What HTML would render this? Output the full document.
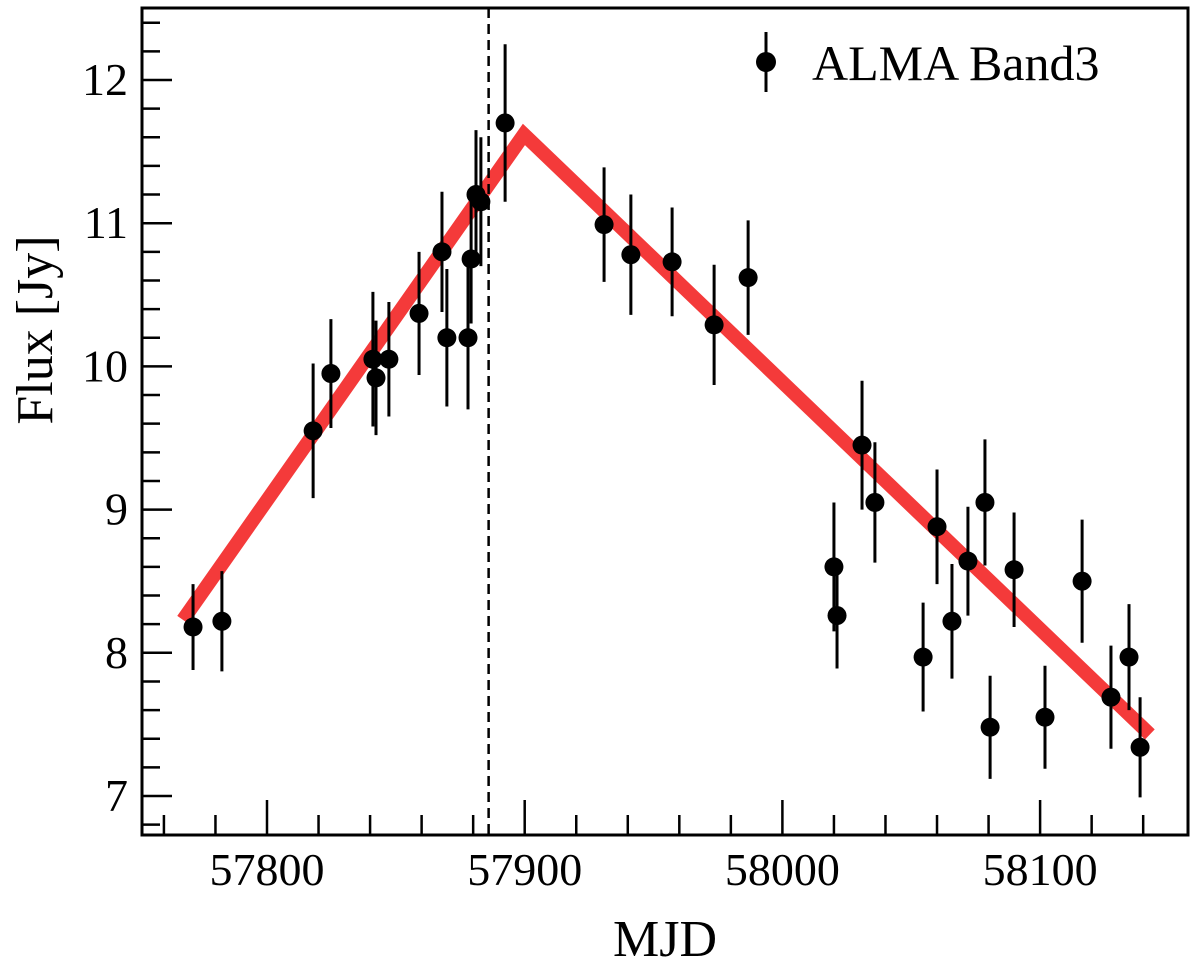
<!DOCTYPE html>
<html><head><meta charset="utf-8"><style>
html,body{margin:0;padding:0;background:#fff;}
svg text{font-family:"Liberation Serif",serif;fill:#000;}
</style></head><body>
<svg id="chart" width="1200" height="961" xmlns="http://www.w3.org/2000/svg">
<rect x="142" y="8" width="1046" height="827" fill="none" stroke="#000" stroke-width="3"/>
<g id="ticks"></g><g id="fit"></g><g id="pts"></g>
<line id="vline" y1="8" y2="835" stroke="#000" stroke-width="2.5" stroke-dasharray="10,6"/>
<text x="665" y="956" font-size="52" text-anchor="middle">MJD</text>
<text transform="translate(52,330) rotate(-90)" font-size="52" text-anchor="middle">Flux [Jy]</text>
<g>
<line x1="766" y1="32" x2="766" y2="92" stroke="#000" stroke-width="3"/>
<circle cx="766" cy="62" r="10" fill="#000"/>
<text x="812" y="80" font-size="50">ALMA Band3</text>
</g>
</svg>
<script>
const mjd=[57771.3,57782.5,57817.9,57824.8,57841.1,57842.3,57847.3,57859.0,57867.9,57869.8,57878.0,57879.2,57881.1,57883.0,57892.4,57930.8,57941.2,57957.2,57973.5,57986.7,58020.0,58021.2,58030.9,58035.9,58054.6,58060.0,58065.8,58072.0,58078.6,58080.6,58089.9,58101.9,58116.3,58127.5,58134.5,58138.8];
const flux=[8.18,8.22,9.55,9.95,10.05,9.92,10.05,10.37,10.8,10.2,10.2,10.75,11.2,11.15,11.7,10.99,10.78,10.73,10.29,10.62,8.6,8.26,9.45,9.05,7.97,8.88,8.22,8.64,9.05,7.48,8.58,7.55,8.5,7.69,7.97,7.34];
const ferr=[0.3,0.35,0.47,0.38,0.47,0.4,0.4,0.43,0.42,0.48,0.5,0.45,0.45,0.45,0.55,0.4,0.42,0.38,0.42,0.4,0.45,0.37,0.45,0.42,0.38,0.4,0.4,0.38,0.44,0.36,0.4,0.36,0.43,0.36,0.37,0.35];
const fitMjd=[57767.4,57899.7,58142.6];
const fitFlux=[8.23,11.62,7.43];
const peakMjd=57886;
const xTicks=[57800,57900,58000,58100];
const yTicks=[7,8,9,10,11,12];
const NS="http://www.w3.org/2000/svg";
const X=d=>267+(d-57800)*2.577;
const Y=v=>80+(12-v)*143.2;
function mk(tag,attrs,parent){const e=document.createElementNS(NS,tag);for(const k in attrs)e.setAttribute(k,attrs[k]);parent.appendChild(e);return e;}
const tk=document.getElementById('ticks');
for(let d=57760;d<=58150;d+=20){const major=d%100===0;const l=mk('line',{x1:X(d),x2:X(d),y1:835,y2:major?800:815,stroke:'#000','stroke-width':2.5},tk);

}
xTicks.forEach(d=>{const t=mk('text',{x:X(d),y:885,'font-size':46,'text-anchor':'middle'},tk);t.textContent=d;

});
for(let i=0;i<=28;i++){const v=6.8+i*0.2;const y=Y(v);if(y<10||y>834)continue;const major=Math.abs(v-Math.round(v))<0.01;
const l=mk('line',{x1:142,x2:major?172:160,y1:y,y2:y,stroke:'#000','stroke-width':2.5},tk);

}
yTicks.forEach(v=>{const t=mk('text',{x:128,y:Y(v)+15,'font-size':46,'text-anchor':'end'},tk);t.textContent=v;

});
const fp=mk('polyline',{points:fitMjd.map((d,i)=>X(d)+','+Y(fitFlux[i])).join(' '),fill:'none',stroke:'#f43a3a','stroke-width':14,'stroke-linejoin':'miter'},document.getElementById('fit'));


const vl=document.getElementById('vline');vl.setAttribute('x1',X(peakMjd));vl.setAttribute('x2',X(peakMjd));
const pg=document.getElementById('pts');
mjd.forEach((d,i)=>{const g=mk('g',{},pg);


mk('line',{x1:X(d),x2:X(d),y1:Y(flux[i]+ferr[i]),y2:Y(flux[i]-ferr[i]),stroke:'#000','stroke-width':3},g);
mk('circle',{cx:X(d),cy:Y(flux[i]),r:9.5,fill:'#000'},g);});
</script>
</body></html>
